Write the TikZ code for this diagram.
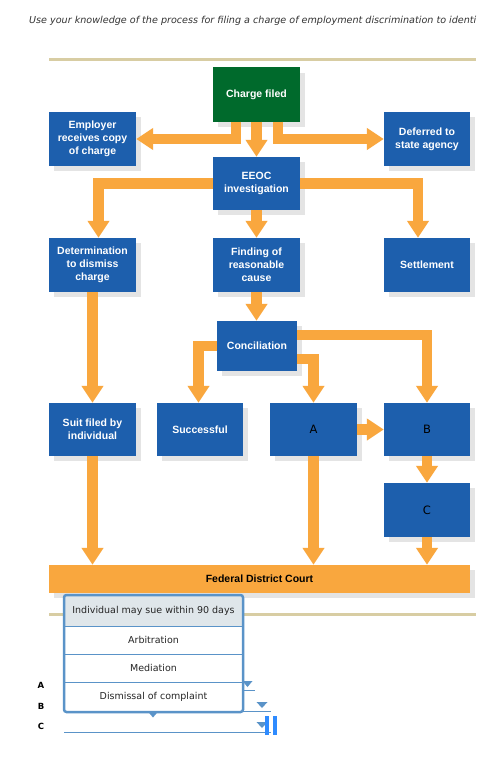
\documentclass[tikz,border=0pt]{standalone}
\usepackage{fontspec}
\setmainfont{Liberation Sans}
\newfontfamily\vfont{DejaVu Sans}
\usetikzlibrary{arrows.meta}
\definecolor{boxblue}{HTML}{1D5FAD}
\definecolor{arrorange}{HTML}{F9A73E}
\definecolor{chargegreen}{HTML}{006A2C}
\definecolor{shadowgray}{HTML}{E4E4E4}
\definecolor{ruletan}{HTML}{D8CDA3}
\definecolor{ddblue}{HTML}{5A93C8}
\definecolor{hlgray}{HTML}{DFE6EA}
\definecolor{textgray}{HTML}{333333}
\definecolor{cursorblue}{HTML}{2E8BFF}
\tikzset{
  box/.style={rectangle, fill=boxblue, minimum width=87pt, minimum height=54pt, inner sep=0pt,
    text=white, font=\bfseries\fontsize{10.5}{13}\selectfont, align=center,
    preaction={fill=shadowgray, transform canvas={shift={(5pt,-5pt)}}}},
  letterbox/.style={box, text=black, font=\vfont\fontsize{11.5}{13}\selectfont},
  arr/.style={draw=arrorange, line width=10.5pt, line join=miter, -{Triangle[width=21pt,length=17pt]}},
  ddline/.style={draw=ddblue, line width=1pt},
  ddtri/.style={fill=ddblue},
  ddtext/.style={font=\vfont\fontsize{9.5}{11}\selectfont, text=black!85, inner sep=0pt},
  qlabel/.style={font=\vfont\bfseries\fontsize{8.5}{10}\selectfont, inner sep=0pt}
}
\begin{document}
\begin{tikzpicture}[x=1pt,y=-1pt]
\useasboundingbox (0,0) rectangle (479,768);
\clip (0,0) rectangle (479,768);
\fill[white] (0,0) rectangle (479,768);

\node[anchor=west, inner sep=0pt, text=textgray, font=\vfont\itshape\fontsize{9.6}{11}\selectfont] (intro) at (29,21)
  {Use your knowledge of the process for filing a charge of employment discrimination to identi};

\fill[ruletan] (49,58.5) rectangle (476,61.5);
\fill[ruletan] (49,612.5) rectangle (476,615.5);

% boxes
\node[box, fill=chargegreen] (charge) at (256.5,94.5) {Charge filed};
\node[box] (employer) at (92.5,139) {Employer\\receives copy\\of charge};
\node[box, minimum width=86pt] (deferred) at (427,139) {Deferred to\\state agency};
\node[box, minimum height=53pt] (eeoc) at (256.5,183.5) {EEOC\\investigation};
\node[box] (determ) at (92.5,265) {Determination\\to dismiss\\charge};
\node[box] (finding) at (256.5,265) {Finding of\\reasonable\\cause};
\node[box, minimum width=86pt] (settle) at (427,265) {Settlement};
\node[box, minimum width=80pt, minimum height=50pt] (concil) at (257,346) {Conciliation};
\node[box, minimum height=53pt] (suit) at (92.5,429.5) {Suit filed by\\individual};
\node[box, minimum width=86pt, minimum height=53pt] (success) at (200,429.5) {Successful};
\node[letterbox, minimum height=53pt] (A) at (313.5,429.5) {A};
\node[letterbox, minimum width=86pt, minimum height=53pt] (B) at (427,429.5) {B};
\node[letterbox, minimum width=86pt] (C) at (427,510) {C};
\node[box, fill=arrorange, text=black, minimum width=421pt, minimum height=28pt] (court) at (259.5,579) {Federal District Court};

% connectors
\draw[arr] ([shift={(-20.5,0)}]charge.south) |- (employer.east);
\draw[arr] ([shift={(21.5,0)}]charge.south) |- (deferred.west);
\draw[arr] (charge.south) -- (eeoc.north);
\draw[arr] (eeoc.west) -| ([shift={(6,0)}]determ.north);
\draw[arr] (eeoc.east) -| ([shift={(-9,0)}]settle.north);
\draw[arr] (eeoc.south) -- (finding.north);
\draw[arr] (determ.south) -- (suit.north);
\draw[arr] (finding.south) -- (finding.south |- concil.north);
\draw[arr] (concil.west) -| ([shift={(-1.5,0)}]success.north);
\draw[arr] ([shift={(0,13)}]concil.east) -| (A.north);
\draw[arr] ([shift={(0,-11)}]concil.east) -| (B.north);
\draw[arr] (A.east) -- (B.west);
\draw[arr] (B.south) -- (C.north);
\draw[arr] (suit.south) -- (suit.south |- court.north);
\draw[arr] (A.south) -- (A.south |- court.north);
\draw[arr] (C.south) -- (C.south |- court.north);

% answer fields
\node[qlabel] (la) at (41,685) {A};
\node[qlabel] (lb) at (41,706) {B};
\node[qlabel] (lc) at (41,726) {C};
\coordinate (aend) at (255,690);
\coordinate (bend) at (271,711);
\coordinate (cend) at (271,732);
\draw[ddline] (64,690) -- (aend);
\draw[ddline] (64,711) -- (bend);
\draw[ddline] (64,732) -- (cend);
\fill[ddtri] (242.5,681) -- (252.5,681) -- (247.5,687) -- cycle;
\fill[ddtri] (256.5,702) -- (267.5,702) -- (262,708) -- cycle;
\fill[ddtri] (256.5,722) -- (267.5,722) -- (262,728) -- cycle;
\fill[cursorblue] (265,716) rectangle (269,735);
\fill[cursorblue] (273.3,716) rectangle (276.5,735);

% popup list
\fill[white] (64,595) rectangle (243,712);
\fill[hlgray] (65,596) rectangle (242,626);
\draw[ddline] (65,626) -- (242,626);
\draw[ddline] (65,654) -- (242,654);
\draw[ddline] (65,682) -- (242,682);
\draw[ddblue, line width=2.5pt, rounded corners=2.5pt] (64,595) rectangle (243,712);
\fill[ddtri] (147.5,711) -- (158.5,711) -- (153,717.5) -- cycle;
\node[ddtext] (o1) at (153.5,611) {Individual may sue within 90 days};
\node[ddtext] (o2) at (153.5,640) {Arbitration};
\node[ddtext] (o3) at (153.5,668) {Mediation};
\node[ddtext] (o4) at (153.5,697) {Dismissal of complaint};
\end{tikzpicture}
\end{document}
